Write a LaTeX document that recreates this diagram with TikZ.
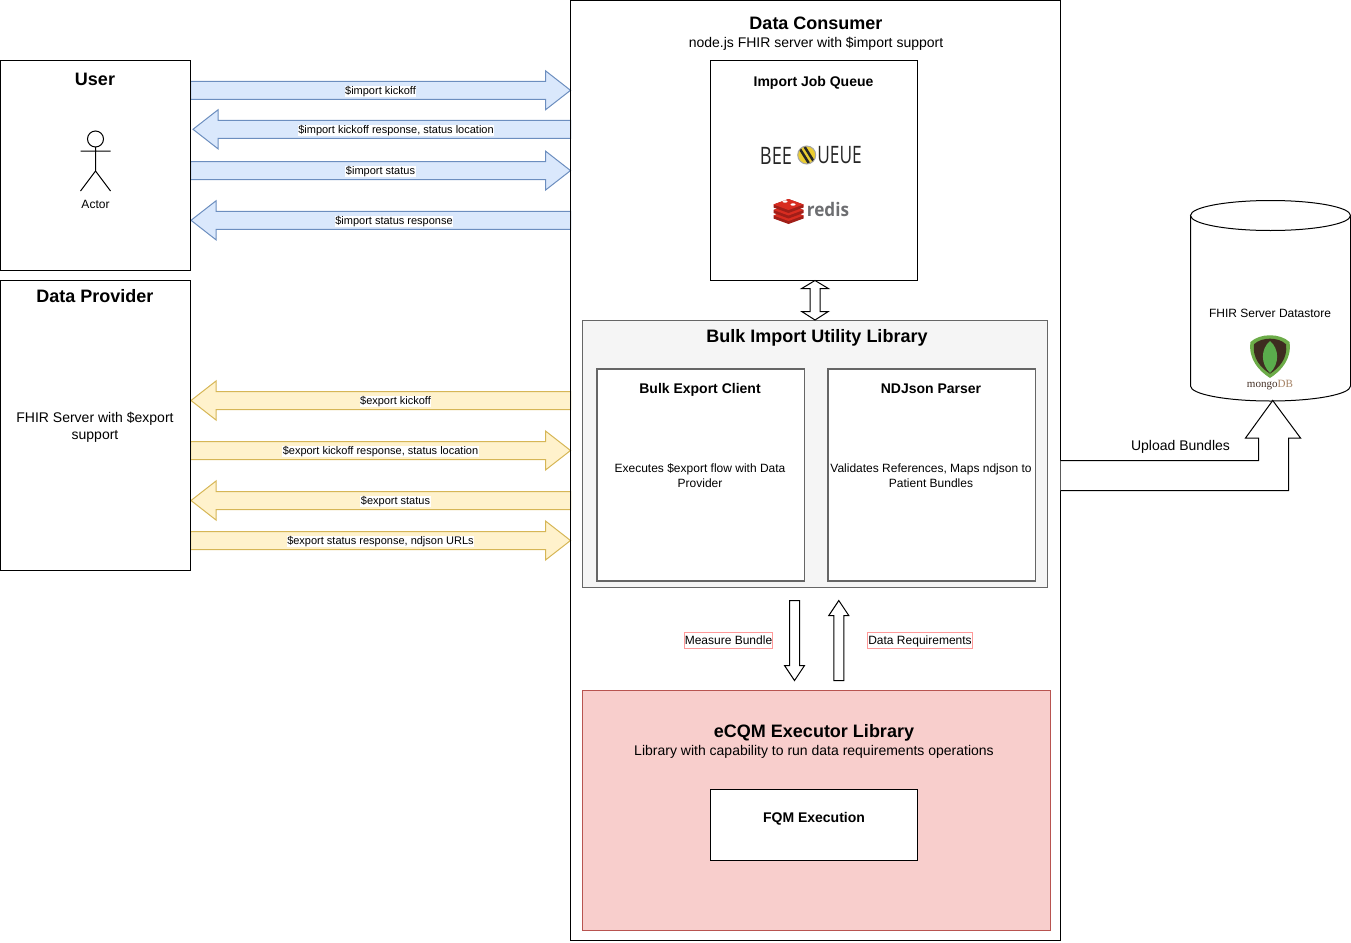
\documentclass[tikz,border=0pt]{standalone}
\usepackage{fontspec}
\setmainfont{Liberation Sans}
\newfontfamily\logofont{Open Sans}
\newfontfamily\mongofont{Liberation Serif}
\usetikzlibrary{calc}
\def\px{0.75pt}
\definecolor{bluefill}{HTML}{DAE8FC}
\definecolor{bluedraw}{HTML}{6C8EBF}
\definecolor{yellowfill}{HTML}{FFF2CC}
\definecolor{yellowdraw}{HTML}{D6B656}
\definecolor{redfill}{HTML}{F8CECC}
\definecolor{reddraw}{HTML}{B85450}
\definecolor{greyfill}{HTML}{F5F5F5}
\definecolor{greydraw}{HTML}{666666}
\definecolor{pinkdraw}{HTML}{FF9999}
\definecolor{mongogreen}{RGB}{108,172,72}
\definecolor{mongobrown}{RGB}{62,44,32}
\definecolor{mongoleaf}{RGB}{90,172,76}
\definecolor{redisred}{RGB}{216,44,32}
\definecolor{redisdark}{RGB}{160,30,24}
\definecolor{redisgrey}{RGB}{109,110,113}
\definecolor{beeyellow}{RGB}{235,205,50}
\tikzset{
  box/.style={draw, rectangle, inner sep=0pt, outer sep=0pt, fill=white},
  bigtitle/.style={font=\fontsize{13.5}{16}\selectfont\bfseries, inner sep=0pt},
  boxtitle/.style={font=\fontsize{10.5}{13}\selectfont\bfseries, inner sep=0pt},
  midtxt/.style={font=\fontsize{10.5}{12.75}\selectfont, align=center, inner sep=0pt},
  smalltxt/.style={font=\fontsize{9}{11.25}\selectfont, align=center, inner sep=0pt},
  arrowtxt/.style={font=\fontsize{8.25}{10}\selectfont, fill=white, inner sep=0.4pt},
  pinktxt/.style={font=\fontsize{9}{11}\selectfont, fill=white, draw=pinkdraw, line width=0.75pt, inner sep=0pt, outer sep=0pt, minimum height=16*\px, text height=7.5pt, text depth=1.3pt},
  blockarrow/.style n args={3}{to path={
    ($(\tikztostart)!#1*\px!90:(\tikztotarget)$)
    -- ($($(\tikztotarget)!#3*\px!(\tikztostart)$)!#1*\px!90:(\tikztotarget)$)
    -- ($($(\tikztotarget)!#3*\px!(\tikztostart)$)!#2*\px!90:(\tikztotarget)$)
    -- (\tikztotarget)
    -- ($($(\tikztotarget)!#3*\px!(\tikztostart)$)!#2*\px!-90:(\tikztotarget)$)
    -- ($($(\tikztotarget)!#3*\px!(\tikztostart)$)!#1*\px!-90:(\tikztotarget)$)
    -- ($(\tikztostart)!#1*\px!-90:(\tikztotarget)$) -- cycle}},
  importarrow/.style={draw=bluedraw, fill=bluefill, blockarrow={9}{19.5}{25}},
  exportarrow/.style={draw=yellowdraw, fill=yellowfill, blockarrow={9}{19.5}{25}},
  thinarrow/.style={draw, fill=white, blockarrow={5}{10}{15}},
}
\begin{document}
\begin{tikzpicture}[x=0.75pt, y=-0.75pt, line width=0.75pt, line join=miter]
    \useasboundingbox (0,0) rectangle (1351,942);
    % left column
    \node (user) [box, minimum width=190*\px, minimum height=210*\px] at (95.5,165.5) {};
    \node (provider) [box, minimum width=190*\px, minimum height=290*\px] at (95.5,425.5) {};
    \node (userTitle) [bigtitle] at (95,79) {User};
    \node (providerTitle) [bigtitle] at (95,296) {Data Provider};
    \node (providerText) [midtxt] at (95,427.5) {FHIR Server with \$export\\support};
    \draw (95.5,139) circle (8);
    \draw (95.5,147)--(95.5,171) (80.5,151)--(110.5,151) (80.5,191)--(95.5,171)--(110.5,191);
    \node (actorText) [smalltxt] at (95.5,204) {Actor};
    % consumer and its parts
    \node (consumer) [box, minimum width=490*\px, minimum height=940*\px] at (570.5+245,470.5) {};
    \node (consumerTitle) [bigtitle] at (816,23) {Data Consumer};
    \node (consumerText) [midtxt] at (816,43.5) {node.js FHIR server with \$import support};
    \node (queue) [box, minimum width=207*\px, minimum height=220*\px] at (814,170.5) {};
    \node (queueTitle) [boxtitle] at (813.5,82.5) {Import Job Queue};
    \node (bulk) [box, fill=greyfill, draw=greydraw, minimum width=465*\px, minimum height=267*\px] at (815.25,454) {};
    \node (bulkTitle) [bigtitle] at (817,338) {Bulk Import Utility Library};
    \node (client) [box, draw=greydraw, line width=1.1pt, minimum width=207.5*\px, minimum height=212*\px] at (700.75,475) {};
    \node (clientTitle) [boxtitle] at (700,390) {Bulk Export Client};
    \node (clientText) [smalltxt] at (700,475.5) {Executes \$export flow with Data\\Provider};
    \node (parser) [box, draw=greydraw, line width=1.1pt, minimum width=207.5*\px, minimum height=212*\px] at (931.75,475) {};
    \node (parserTitle) [boxtitle] at (931,389) {NDJson Parser};
    \node (parserText) [smalltxt] at (931,475.5) {Validates References, Maps ndjson to\\Patient Bundles};
    \node (ecqm) [box, fill=redfill, draw=reddraw, minimum width=468*\px, minimum height=240*\px] at (816.75,810.5) {};
    \node (ecqmTitle) [bigtitle] at (814,733) {eCQM Executor Library};
    \node (ecqmText) [midtxt] at (814,751.5) {Library with capability to run data requirements operations};
    \node (fqm) [box, minimum width=207.5*\px, minimum height=71.5*\px] at (814,824.75) {};
    \node (fqmTitle) [boxtitle] at (814,819) {FQM Execution};
    % import arrows
    \foreach \yy/\txt in {90.3/{\$import kickoff},170.6/{\$import status}}{
      \draw[importarrow] (user.east |- 0,\yy) to (consumer.west |- 0,\yy);
      \node (lbl\yy) [arrowtxt] at (380.5,\yy+1) {\txt};
    }
    \draw[importarrow] (consumer.west |- 0,129.3) to ([xshift=2.5*\px]user.east |- 0,129.3);
    \node (lblA) [arrowtxt] at (396,130.3) {\$import kickoff response, status location};
    \draw[importarrow] (consumer.west |- 0,220.3) to ([xshift=0.5*\px]user.east |- 0,220.3);
    \node (lblB) [arrowtxt] at (394,221.3) {\$import status response};
    % export arrows
    \foreach \yy/\txt in {400.5/{\$export kickoff},500.5/{\$export status}}{
      \draw[exportarrow] (consumer.west |- 0,\yy) to ([xshift=0.5*\px]provider.east |- 0,\yy);
      \node (lbl\yy) [arrowtxt] at (395.5,\yy+1) {\txt};
    }
    \foreach \yy/\txt in {450.5/{\$export kickoff response, status location},540.5/{\$export status response, ndjson URLs}}{
      \draw[exportarrow] (provider.east |- 0,\yy) to (consumer.west |- 0,\yy);
      \node (lbl\yy) [arrowtxt] at (380.5,\yy+1) {\txt};
    }
    \foreach \nm in {user,provider,consumer}
      \draw (\nm.north west) rectangle (\nm.south east);
    % arrows inside the consumer
    \draw[fill=white] (815,280.5)--(828.3,288.5)--(820,288.5)--(820,311.5)--(828.3,311.5)--(815,320)--(801.7,311.5)--(810,311.5)--(810,288.5)--(801.7,288.5)--cycle;
    \coordinate (downStart) at (794.5,600.5);
    \coordinate (upStart) at (838.8,680.5);
    \coordinate (downEnd) at (794.5,680.5);
    \coordinate (upEnd) at (838.8,600.5);
    \draw[thinarrow] (downStart) to (downEnd);
    \draw[thinarrow] (upStart) to (upEnd);
    \node (measureLbl) [pinktxt, minimum width=88*\px] at (728.5,640.5) {Measure Bundle};
    \node (dataLbl) [pinktxt, minimum width=105*\px] at (920,640.5) {Data Requirements};
    % datastore
    \draw[fill=white] (1190.5,215.5) -- (1190.5,386) arc[start angle=180, end angle=0, x radius=80, y radius=15] -- (1350.5,215.5);
    \draw[fill=white] (1270.5,215.5) ellipse [x radius=80, y radius=15];
    \coordinate (storeTip) at (1272.7,400.5);
    \node (storeText) [smalltxt] at (1270,313) {FHIR Server Datastore};
    \draw[fill=white] (consumer.east |- 0,460.5) -- (1258.5,460.5) -- (1258.5,438) -- (1245.5,438) -- (storeTip) -- (1300.5,438) -- (1288.5,438) -- (1288.5,490.5) -- (consumer.east |- 0,490.5);
    \node (uploadLbl) [midtxt] at (1180.5,446.5) {Upload Bundles};
    % mongodb logo
    \def\shieldpath{(-19.5,-15) .. controls (-10,-24) and (10,-24) .. (19.5,-15) .. controls (22,2) and (11,14) .. (0,21) .. controls (-11,14) and (-22,2) .. (-19.5,-15) -- cycle}
    \begin{scope}[shift={(1270,357)}]
      \fill[mongogreen] \shieldpath;
    \end{scope}
    \begin{scope}[shift={(1270,356.5)}, scale=.82]
      \fill[mongobrown] \shieldpath;
    \end{scope}
    \fill[mongoleaf] (1270,341) .. controls (1279.5,349) and (1279.5,364) .. (1270,373) .. controls (1260.5,364) and (1260.5,349) .. (1270,341) -- cycle;
    \node (mongoLogo) [inner sep=0pt, font=\mongofont\fontsize{8.3}{9}\selectfont] at (1270,385.5) {\textcolor[RGB]{70,50,40}{mongo}\textcolor[RGB]{165,130,100}{DB}};
    % bee queue logo
    \node (beeLeft) [inner sep=0pt, font=\logofont\fontsize{18}{20}\selectfont, text=black!85] at (776,155.5) {\scalebox{.76}[1]{BEE}};
    \node (beeRight) [inner sep=0pt, font=\logofont\fontsize{18}{20}\selectfont, text=black!85] at (839.5,155.5) {\scalebox{.72}[1]{UEUE}};
    \draw[gray!70, fill=beeyellow] (806.7,155) circle (9);
    \begin{scope}
      \clip (806.7,155) circle (8.5);
      \foreach \dd in {-4,2}
        \draw[black!85, line width=1.9pt] (806.7+\dd-4,155-8) -- (806.7+\dd+6,155+8);
    \end{scope}
    % redis logo
    \foreach \yy in {210,204.5,199}{
      \fill[redisdark] (773.5,\yy+5.5) -- (788.5,\yy) -- (803.5,\yy+5.5) -- (803.5,\yy+8.5) -- (788.5,\yy+14) -- (773.5,\yy+8.5) -- cycle;
      \fill[redisred] (773.5,\yy+5.5) -- (788.5,\yy) -- (803.5,\yy+5.5) -- (788.5,\yy+11) -- cycle;
    }
    \fill[white] (785,201.5) ellipse [x radius=2.5, y radius=1.2] (793,204.5) ellipse [x radius=2.5, y radius=1.2];
    \node (redisText) [inner sep=0pt, font=\logofont\fontsize{14}{16}\selectfont\bfseries, text=redisgrey] at (828,209.5) {\scalebox{.92}[1]{redis}};
\end{tikzpicture}
\end{document}
